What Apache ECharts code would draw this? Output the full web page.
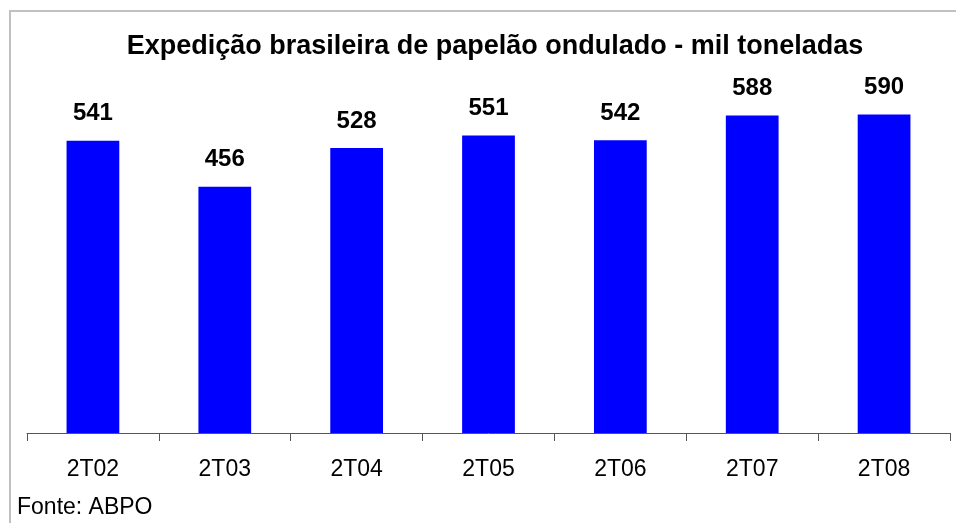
<!DOCTYPE html>
<html>
<head>
<meta charset="utf-8">
<script src="https://cdn.jsdelivr.net/npm/echarts@6/dist/echarts.min.js"></script>
<style>
  html, body { margin: 0; padding: 0; background: #fff; }
  #grafico { width: 956px; height: 523px; }
</style>
</head>
<body>
<div id="grafico"></div>
<script>
var periodos = ['2T02', '2T03', '2T04', '2T05', '2T06', '2T07', '2T08'];
var expedicao = [541, 456, 528, 551, 542, 588, 590];

var dom = document.getElementById('grafico');
var myChart = echarts.init(dom, null, { renderer: 'canvas' });

var option = {
  backgroundColor: '#fff',
  animation: false,
  graphic: [
    {
      type: 'rect',
      shape: { x: 10, y: 11, width: 960, height: 530 },
      style: { fill: 'none', stroke: '#c0c0c0', lineWidth: 2 }
    },
    {
      type: 'text',
      left: 17,
      top: 496,
      style: {
        text: 'Fonte: ABPO',
        font: '23px "Liberation Sans", Arial, sans-serif',
        fill: '#000'
      }
    }
  ],
  title: {
    text: 'Expedição brasileira de papelão ondulado - mil toneladas',
    left: 490,
    top: 28,
    textAlign: 'center',
    textStyle: {
      fontFamily: '"Liberation Sans", Arial, sans-serif',
      fontSize: 27,
      fontWeight: 'bold',
      color: '#000'
    }
  },
  grid: { left: 27, right: 6, top: 55, bottom: 90 },
  xAxis: {
    type: 'category',
    data: periodos,
    axisLine: { lineStyle: { color: '#555', width: 1 } },
    axisTick: { show: true, length: 8, lineStyle: { color: '#555' } },
    axisLabel: {
      color: '#000',
      fontSize: 23,
      fontFamily: '"Liberation Sans", Arial, sans-serif',
      margin: 25
    }
  },
  yAxis: {
    type: 'value',
    min: 0,
    max: 700,
    show: false,
    splitLine: { show: false }
  },
  series: [
    {
      name: 'Expedição',
      type: 'bar',
      data: expedicao,
      barWidth: '40%',
      itemStyle: { color: '#0000ff' },
      label: {
        show: true,
        position: 'top',
        distance: 15,
        color: '#000',
        fontSize: 24,
        fontWeight: 'bold',
        fontFamily: '"Liberation Sans", Arial, sans-serif'
      }
    }
  ]
};

myChart.setOption(option);
window.addEventListener('resize', myChart.resize);
</script>
</body>
</html>
